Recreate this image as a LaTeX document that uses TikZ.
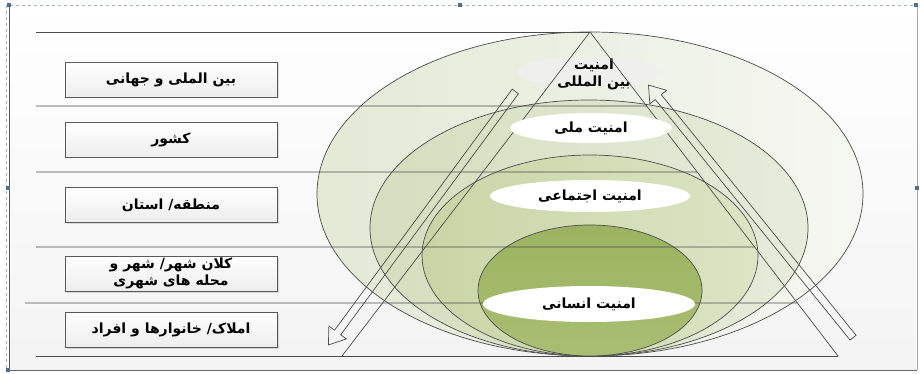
\documentclass[tikz,border=0pt]{standalone}
\usepackage{fontspec}
\usetikzlibrary{shapes.geometric,shapes.arrows,shadows,calc}
\TeXXeTstate=1
\newfontfamily\persianfont[Script=Arabic]{DejaVu Sans}
\newcommand{\pers}[1]{\beginR #1\endR}

\definecolor{rimcolor}{rgb}{0.300000, 0.300000, 0.300000}
\definecolor{handlecolor}{rgb}{0.310000, 0.430000, 0.570000}
\definecolor{framedashcolor}{rgb}{0.640000, 0.700000, 0.780000}
\definecolor{ringoneL}{rgb}{0.890000, 0.915000, 0.835000}
\definecolor{ringoneR}{rgb}{0.965000, 0.970000, 0.950000}
\definecolor{ringtwoL}{rgb}{0.835000, 0.870000, 0.745000}
\definecolor{ringtwoR}{rgb}{0.905000, 0.925000, 0.860000}
\definecolor{ringthreeL}{rgb}{0.790000, 0.835000, 0.650000}
\definecolor{ringthreeR}{rgb}{0.860000, 0.895000, 0.770000}
\definecolor{coreT}{rgb}{0.610000, 0.705000, 0.380000}
\definecolor{coreB}{rgb}{0.665000, 0.745000, 0.450000}

\tikzset{
  rule/.style={draw=rimcolor, line width=0.7pt},
  ring/.style={draw=rimcolor, line width=0.7pt},
  levelbox/.style={draw=gray!70!black, line width=0.7pt, top color=white,
    bottom color=gray!14, minimum width=212pt, minimum height=35pt,
    inner sep=0pt, align=center,
    font=\persianfont\bfseries\fontsize{14}{17}\selectfont,
    drop shadow={opacity=0.25, shadow xshift=1.5pt, shadow yshift=-1.5pt}},
  seclabel/.style={ellipse, fill=white, inner sep=0pt, align=center,
    font=\persianfont\bfseries\fontsize{14}{17}\selectfont},
  hollowarrow/.style={single arrow, draw=rimcolor, line width=0.7pt,
    inner sep=3.5pt, single arrow head extend=7pt, single arrow tip angle=70,
    single arrow head indent=0pt}
}

\begin{document}
\begin{tikzpicture}[x=1pt,y=-1pt]
\useasboundingbox (0,0) rectangle (920,374);
% frame
\fill[top color=white, bottom color=gray!9] (10,5) rectangle (916,370);
\draw[framedashcolor, dashed, line width=0.8pt] (10,5) -- (916,5);
\draw[framedashcolor, dashed, line width=0.8pt] (6,5) -- (6,370);
\draw[gray!70!black, line width=0.7pt] (9,5) -- (9,370);
\draw[gray!70, line width=0.8pt] (917,5) -- (917,370);
\draw[gray!80!black, line width=0.8pt] (9,370) -- (917,370);
\foreach \hx/\hy in {9/5, 460/5, 916/5, 8/188, 917/188, 8/370}
  \fill[handlecolor] (\hx-2,\hy-2) rectangle (\hx+2,\hy+2);

% nested security rings
\path[ring, left color=ringoneL, right color=ringoneR]
  (590,194) ellipse [x radius=273, y radius=162];
\path[ring, left color=ringtwoL, right color=ringtwoR]
  (589,228) ellipse [x radius=219, y radius=128];
\path[ring, left color=ringthreeL, right color=ringthreeR]
  (590,255.5) ellipse [x radius=168, y radius=100.5];
\path[ring, top color=coreT, bottom color=coreB]
  (590,290.5) ellipse [x radius=112, y radius=65.5];

% triangle and level rules
\coordinate (apex) at (590,32);
\coordinate (baseL) at (342,356);
\coordinate (baseR) at (838,356);
\draw[rule] (36,32) -- (apex);
\foreach \yy/\xs in {106/36, 172/36, 247/36, 303/25}
  \draw[rule] (\xs,\yy) -- ($(apex)!{(\yy-32)/324}!(baseR)$);
\draw[rule] (36,356) -- (baseR);

% top label sits under the triangle
\node[seclabel, fill=gray!12, opacity=0.85, minimum width=146pt, minimum height=31pt]
  (secIntlBg) at (590,72) {};
\node[align=center, font=\persianfont\bfseries\fontsize{14}{17}\selectfont]
  (secIntl) at (594,74) {\pers{امنیت}\\\pers{بین المللی}};

\draw[rule] (baseL) -- (apex) -- (baseR);

\node[seclabel, minimum width=162pt, minimum height=30pt]
  (secNation) at (591,128) {\pers{امنیت ملی}};
\node[seclabel, minimum width=200pt, minimum height=32pt]
  (secSocial) at (590,196) {\pers{امنیت اجتماعی}};
\node[seclabel, minimum width=212pt, minimum height=36pt]
  (secHuman) at (589,304) {\pers{امنیت انسانی}};

% hollow arrows
\node[hollowarrow, minimum height=315pt, rotate=233.6] (downArrow) at (423.5,216) {};
\node[hollowarrow, minimum height=325pt, rotate=129] (upArrow) at (752.5,213.5) {};

% levels
\node[levelbox] (lvlIntl) at (171,79.5) {\pers{بین الملی و جهانی}};
\node[levelbox] (lvlNation) at (171,139.5) {\pers{کشور}};
\node[levelbox] (lvlRegion) at (171,205) {\pers{منطقه/ استان}};
\node[levelbox] (lvlCity) at (171,273.5) {\pers{کلان شهر/ شهر و}\\\pers{محله های شهری}};
\node[levelbox] (lvlFamily) at (171,329.5) {\pers{املاک/ خانوارها و افراد}};
\end{tikzpicture}
\end{document}
